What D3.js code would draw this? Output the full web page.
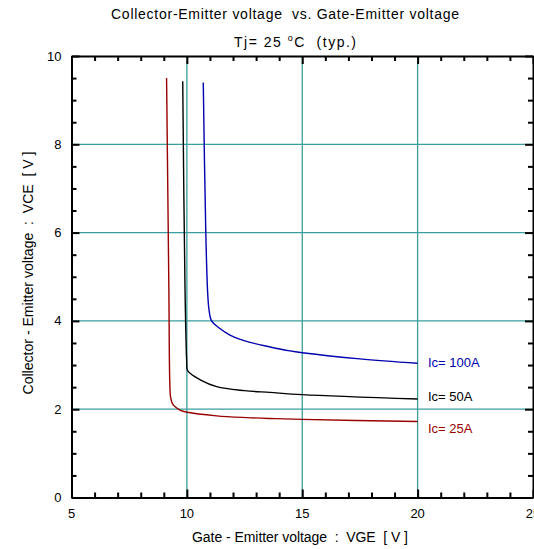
<!DOCTYPE html>
<html>
<head>
<meta charset="utf-8">
<script src="https://cdn.jsdelivr.net/npm/d3@7"></script>
<style>
  body { margin: 0; background: #fff; }
  svg text { font-family: "Liberation Sans", Arial, sans-serif; font-size: 13px; white-space: pre; }
</style>
</head>
<body>
<div id="chart"></div>
<script>
// curves: VGE [V] vs VCE [V]
const vge25  = [9.12, 9.22, 9.26, 9.30, 9.38, 9.48, 9.70, 10.02, 11.29, 12.59, 13.6, 15, 20];
const vce25  = [9.50, 4.70, 2.60, 2.25, 2.12, 2.06, 1.98, 1.93, 1.85, 1.81, 1.79, 1.77, 1.72];
const vge50  = [9.82, 9.92, 9.99, 10.02, 10.13, 10.6, 11.29, 12.5, 13.6, 15, 20];
const vce50  = [9.43, 4.70, 3.12, 2.89, 2.82, 2.66, 2.51, 2.42, 2.38, 2.33, 2.23];
const vge100 = [10.71, 10.82, 10.90, 10.96, 11.07, 11.4, 11.87, 12.7, 13.6, 14.47, 15, 17.5, 20];
const vce100 = [9.40, 6.00, 4.65, 4.25, 4.00, 3.84, 3.68, 3.52, 3.41, 3.32, 3.28, 3.14, 3.04];

const seriesNames  = ["Ic= 25A", "Ic= 50A", "Ic= 100A"];
const seriesColors = ["#990000", "#000000", "#0000b0"];
const labelVce     = [1.56, 2.28, 3.06];

const xTicks = [5, 10, 15, 20, 25];
const yTicks = [0, 2, 4, 6, 8, 10];
const xGrid  = [10, 15, 20];
const yGrid  = [2, 4, 6, 8];

const W = 534, H = 549;
const m = {top: 56, right: 1, bottom: 51.5, left: 71.5};

const svg = d3.select("#chart").append("svg")
    .attr("width", W).attr("height", H);

const x = d3.scaleLinear().domain([5, 25]).range([m.left, W - m.right]);
const y = d3.scaleLinear().domain([0, 10]).range([H - m.bottom, m.top]);

// grid
svg.selectAll(".gx").data(xGrid).enter().append("line")
    .attr("x1", d => x(d)).attr("x2", d => x(d))
    .attr("y1", y(0)).attr("y2", y(10))
    .attr("stroke", "#3a9e9e").attr("stroke-width", 1.3);
svg.selectAll(".gy").data(yGrid).enter().append("line")
    .attr("x1", x(5)).attr("x2", x(25))
    .attr("y1", d => y(d)).attr("y2", d => y(d))
    .attr("stroke", "#3a9e9e").attr("stroke-width", 1.3);

// axes, ticks pointing inward, on all four sides
const xMinor = d3.range(5, 26, 1);
const yMinor = d3.range(0, 10.01, 0.5);
const tick = (v, major) => major ? 8 : 5;

const axB = d3.axisBottom(x).tickValues(xMinor).tickSizeInner(0).tickSizeOuter(0).tickFormat("");
const gB = svg.append("g").attr("transform", `translate(0,${y(0)})`).call(axB);
gB.selectAll(".tick line").attr("y2", d => -tick(d, d % 5 === 0));
const gT = svg.append("g").attr("transform", `translate(0,${y(10)})`).call(axB);
gT.selectAll(".tick line").attr("y2", d => tick(d, d % 5 === 0));

const axL = d3.axisLeft(y).tickValues(yMinor).tickSizeInner(0).tickSizeOuter(0).tickFormat("");
const gL = svg.append("g").attr("transform", `translate(${x(5)},0)`).call(axL);
gL.selectAll(".tick line").attr("x2", d => tick(d, d % 2 === 0));
const gR = svg.append("g").attr("transform", `translate(${x(25)},0)`).call(axL);
gR.selectAll(".tick line").attr("x2", d => -tick(d, d % 2 === 0));

svg.selectAll(".domain").attr("stroke", "#000").attr("stroke-width", 2);
svg.selectAll(".tick line").attr("stroke", "#000").attr("stroke-width", 2);

// tick labels
svg.selectAll(".xl").data(xTicks).enter().append("text")
    .attr("x", d => x(d)).attr("y", y(0) + 20)
    .attr("text-anchor", "middle").text(d => d);
svg.selectAll(".yl").data(yTicks).enter().append("text")
    .attr("x", x(5) - 10).attr("y", d => y(d) + 4.5)
    .attr("text-anchor", "end").text(d => d);

// curves
const series = [
  vge25.map((v, i) => [v, vce25[i]]),
  vge50.map((v, i) => [v, vce50[i]]),
  vge100.map((v, i) => [v, vce100[i]])
];
const line = d3.line().x(d => x(d[0])).y(d => y(d[1])).curve(d3.curveCatmullRom.alpha(0.5));
svg.selectAll(".curve").data(series).enter().append("path")
    .attr("d", line).attr("fill", "none")
    .attr("stroke", (d, i) => seriesColors[i]).attr("stroke-width", 1.4);

svg.selectAll(".lab").data(seriesNames).enter().append("text")
    .attr("x", x(20.45)).attr("y", (d, i) => y(labelVce[i]) + 4.5)
    .attr("fill", (d, i) => seriesColors[i]).text(d => d);

// titles
svg.append("text").attr("x", 285).attr("y", 19).attr("text-anchor", "middle")
    .style("font-size", "14px").attr("textLength", 348).attr("lengthAdjust", "spacing")
    .text("Collector-Emitter voltage  vs. Gate-Emitter voltage");
const t2 = svg.append("text").attr("x", 295).attr("y", 47).attr("text-anchor", "middle")
    .style("font-size", "14px").attr("textLength", 122).attr("lengthAdjust", "spacing");
t2.append("tspan").text("Tj= 25 ");
t2.append("tspan").attr("dy", -6).style("font-size", "9px").text("o");
t2.append("tspan").attr("dy", 6).text("C  (typ.)");

svg.append("text").attr("x", 300).attr("y", 542).attr("text-anchor", "middle")
    .style("font-size", "14px").attr("textLength", 216).attr("lengthAdjust", "spacing")
    .text("Gate - Emitter voltage  :  VGE  [ V ]");
svg.append("text").attr("transform", "translate(33,273) rotate(-90)")
    .attr("text-anchor", "middle").style("font-size", "14px")
    .attr("textLength", 243).attr("lengthAdjust", "spacing")
    .text("Collector - Emitter voltage  :  VCE  [ V ]");
</script>
</body>
</html>
